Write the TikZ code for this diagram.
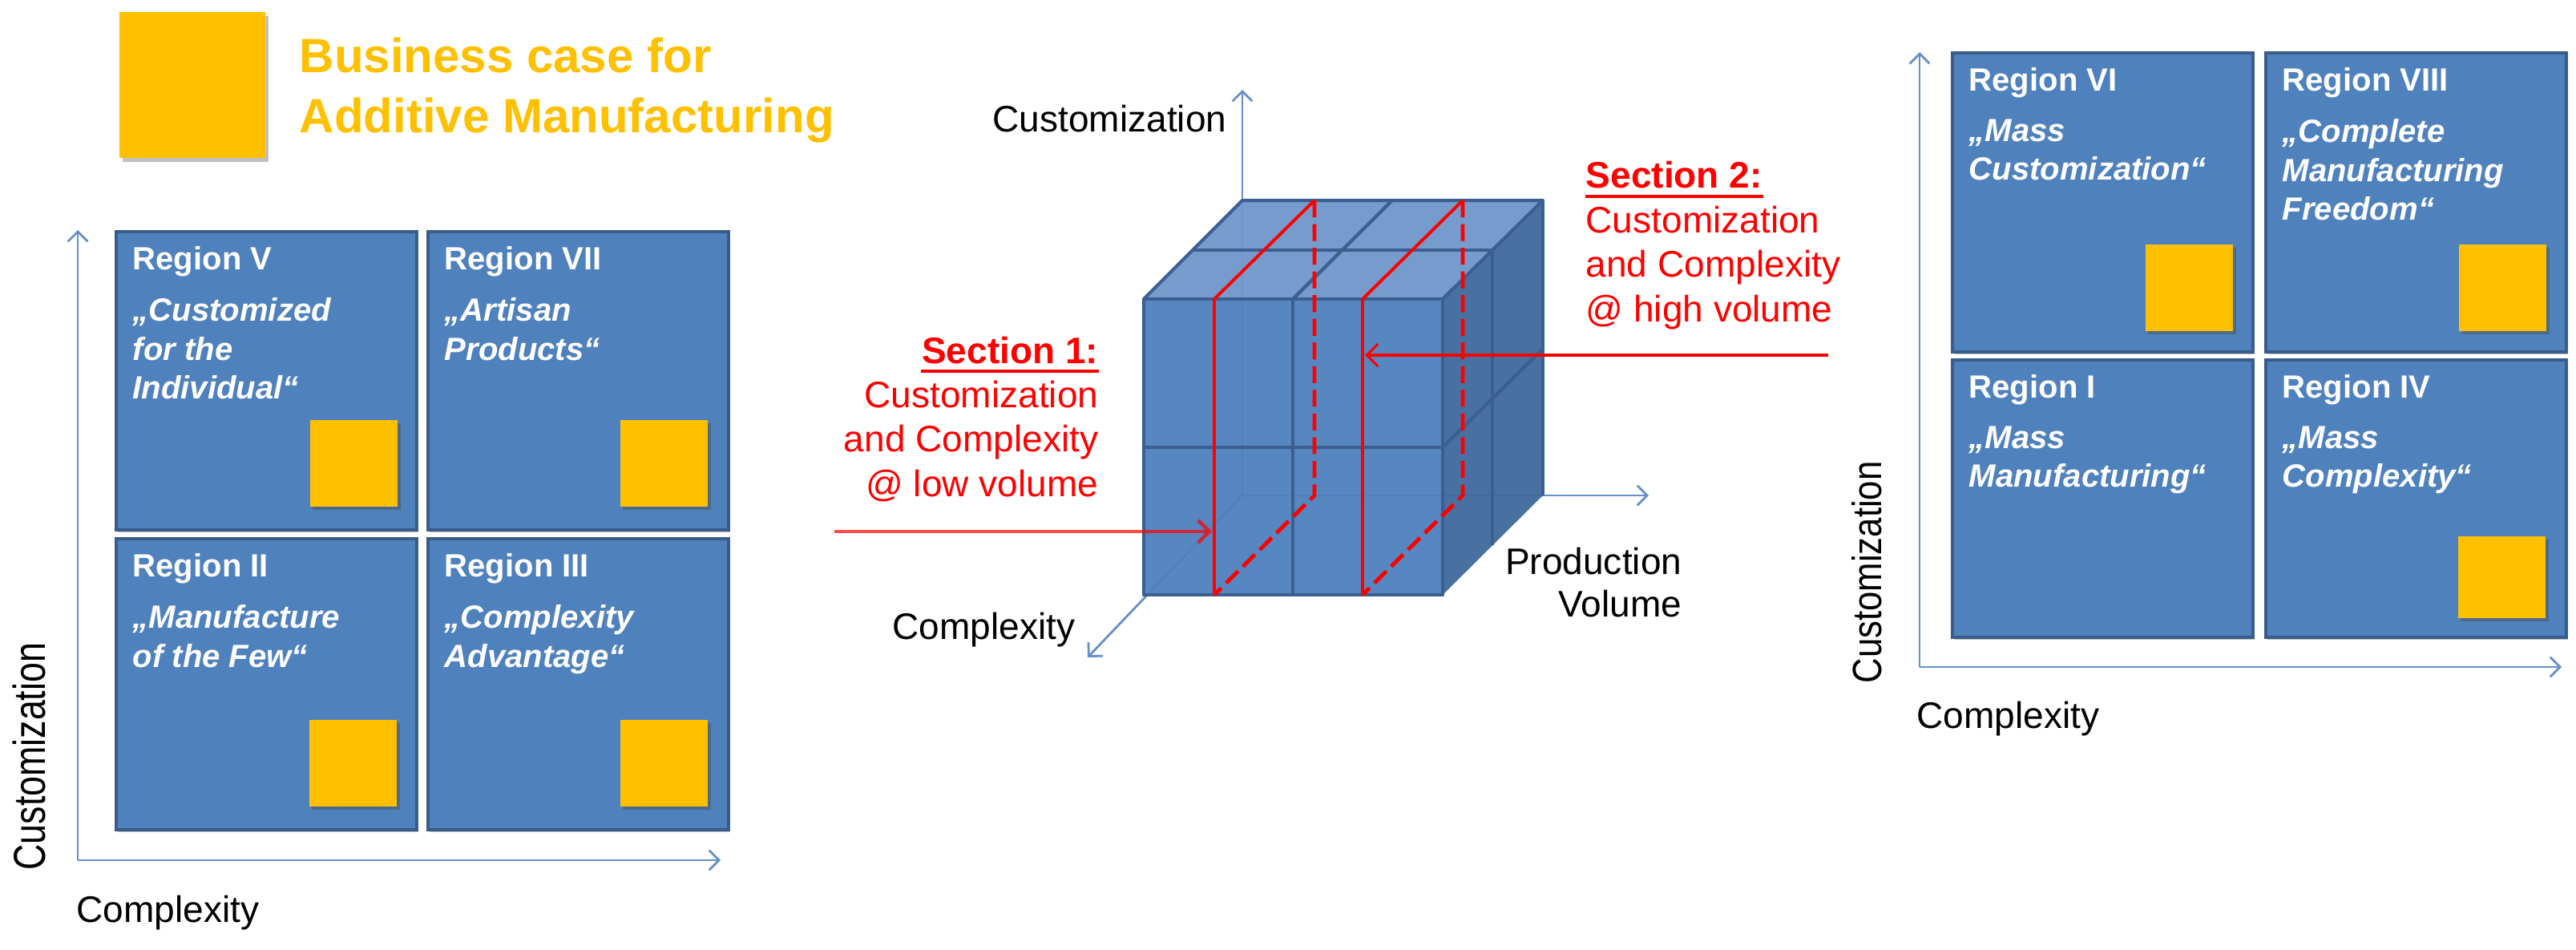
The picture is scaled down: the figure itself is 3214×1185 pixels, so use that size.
\documentclass[tikz,border=0pt]{standalone}
\usepackage{fontspec}
\usepackage{graphicx}
\setmainfont{Liberation Sans}
\usetikzlibrary{arrows.meta,shadows,calc}
\definecolor{boxblue}{HTML}{4F81BD}
\definecolor{boxdark}{HTML}{385D8A}
\definecolor{amyellow}{HTML}{FFC000}
\definecolor{axisblue}{HTML}{6690CB}
\definecolor{topblue}{HTML}{6E97CA}
\definecolor{sideblue}{HTML}{3F6A9E}
\definecolor{cubeedge}{HTML}{3A5F90}
\definecolor{secred}{HTML}{FF0000}
\newcommand{\RegBox}[5]{%
  \node[regbox, minimum height=#3] (#1) at (#2) {};
  \node[regtitle] (#1t) at ([xshift=0.22cm,yshift=-0.49cm]#1.north west) {#4};
  \node[regquote] (#1q) at ([xshift=0.22cm,yshift=-0.84cm]#1.north west) {#5};}
\tikzset{
  regbox/.style={draw=boxdark, line width=1.1pt, fill=boxblue, anchor=north west,
    minimum width=3.75cm, inner sep=0pt,
    drop shadow={shadow xshift=0.6pt, shadow yshift=-0.8pt, opacity=0.25, fill=black}},
  regtitle/.style={anchor=base west, inner sep=0pt, text=white,
    font=\fontsize{11.4pt}{13.7pt}\selectfont\bfseries},
  regquote/.style={anchor=north west, inner sep=0pt, text=white, align=left,
    font=\fontsize{11.4pt}{13.8pt}\selectfont\bfseries\itshape},
  ysq/.style={fill=amyellow, anchor=south east, minimum width=1.09cm, minimum height=1.08cm,
    inner sep=0pt, drop shadow={shadow xshift=0.9pt, shadow yshift=-1.1pt, opacity=0.45, fill=black!70}},
  titlesq/.style={fill=amyellow, anchor=north west, minimum width=1.82cm, minimum height=1.82cm,
    inner sep=0pt, drop shadow={shadow xshift=1.2pt, shadow yshift=-1.5pt, opacity=0.4, fill=black!60}},
  titletext/.style={anchor=north west, inner sep=0pt, align=left, text=amyellow,
    font=\fontsize{17.07pt}{21.34pt}\selectfont\bfseries},
  axisarrow/.style={draw=axisblue, line width=0.8pt, -{Straight Barb[length=3.5pt,width=7pt]}},
  lbl/.style={inner sep=0pt, text=black, font=\fontsize{13.1pt}{15.1pt}\selectfont},
  sectitle/.style={inner sep=0pt, text=secred, font=\fontsize{13.1pt}{15.8pt}\selectfont\bfseries},
  sectext/.style={inner sep=0pt, text=secred, font=\fontsize{13.1pt}{15.8pt}\selectfont},
  edgeline/.style={draw=cubeedge, line width=1.2pt, line join=round},
  secsolid/.style={draw=secred, line width=1.1pt, line join=round},
  secdash/.style={draw=secred, line width=1.4pt, dash pattern=on 6pt off 2.4pt},
  redarrow/.style={draw=secred, -{Straight Barb[length=4pt,width=8pt]}},
}
\begin{document}
\begin{tikzpicture}[x=0.01cm,y=-0.01cm]
\fill[white] (0,0) rectangle (3214,1185);
\useasboundingbox (0,0) rectangle (3214,1185);

% ---------- title ----------
\node[titlesq] (tsq) at (148,14) {};
\node[titletext] (title) at (373,46) {Business case for\\Additive Manufacturing};

% ---------- left matrix ----------
\coordinate (lo) at (97,1073);
\coordinate (ly) at (97,287);
\coordinate (lx) at (899,1073);
\draw[axisarrow] (lo) -- (ly);
\draw[axisarrow] (lo) -- (lx);
\node[lbl, anchor=base west, rotate=90, font=\fontsize{15.9pt}{18pt}\selectfont] (lcust) at (57,1086) {\scalebox{0.8}[1]{Customization}};
\node[lbl, anchor=base west] (lcompl) at (95,1150) {Complexity};

\RegBox{rV}{143,287}{3.72cm}{Region V}{„Customized\\for the\\Individual“}
\RegBox{rVII}{532,287}{3.72cm}{Region VII}{„Artisan\\Products“}
\RegBox{rII}{143,670}{3.63cm}{Region II}{„Manufacture\\of the Few“}
\RegBox{rIII}{532,670}{3.63cm}{Region III}{„Complexity\\Advantage“}
\node[ysq] (sV) at ([xshift=-0.25cm,yshift=0.30cm]rV.south east) {};
\node[ysq] (sVII) at ([xshift=-0.27cm,yshift=0.30cm]rVII.south east) {};
\node[ysq] (sII) at ([xshift=-0.26cm,yshift=0.30cm]rII.south east) {};
\node[ysq] (sIII) at ([xshift=-0.27cm,yshift=0.30cm]rIII.south east) {};

% ---------- right matrix ----------
\coordinate (ro) at (2395,832);
\coordinate (ry) at (2395,65);
\coordinate (rx) at (3196,832);
\draw[axisarrow] (ro) -- (ry);
\draw[axisarrow] (ro) -- (rx);
\node[lbl, anchor=base west, rotate=90, font=\fontsize{14.5pt}{17pt}\selectfont] (rcust) at (2347,853) {\scalebox{0.857}[1]{Customization}};
\node[lbl, anchor=base west] (rcompl) at (2391,908) {Complexity};

\RegBox{rVI}{2434,64}{3.73cm}{Region VI}{„Mass\\Customization“}
\RegBox{rVIII}{2825,64}{3.73cm}{Region VIII}{„Complete\\Manufacturing\\Freedom“}
\RegBox{rI}{2434,447}{3.46cm}{Region I}{„Mass\\Manufacturing“}
\RegBox{rIV}{2825,447}{3.46cm}{Region IV}{„Mass\\Complexity“}
\node[ysq] (sVI) at ([xshift=-0.26cm,yshift=0.27cm]rVI.south east) {};
\node[ysq] (sVIII) at ([xshift=-0.26cm,yshift=0.27cm]rVIII.south east) {};
\node[ysq, minimum height=1.02cm] (sIV) at ([xshift=-0.27cm,yshift=0.25cm]rIV.south east) {};

% ---------- cube ----------
\coordinate (F1) at (1427,742);
\coordinate (F2) at (1800,742);
\coordinate (F3) at (1800,373);
\coordinate (F4) at (1427,373);
\coordinate (B1) at (1550,618);
\coordinate (B2) at (1925,618);
\coordinate (B3) at (1925,250);
\coordinate (B4) at (1550,250);
\coordinate (cz) at (1550,112);
\coordinate (pv) at (2057,618);
\coordinate (cx) at (1357,820);
\draw[axisarrow] (B1) -- (cz);
\draw[axisarrow] (B1) -- (pv);
\draw[axisarrow] (B1) -- (cx);

\fill[boxblue, fill opacity=0.95] (F1) -- (F2) -- (F3) -- (F4) -- cycle;
\fill[topblue, fill opacity=0.95] (F4) -- (F3) -- (B3) -- (B4) -- cycle;
\fill[sideblue, fill opacity=0.95] (F2) -- (F3) -- (B3) -- (B2) -- cycle;

\coordinate (FMt) at (1613,373);
\coordinate (FMb) at (1613,742);
\coordinate (FHl) at (1427,558);
\coordinate (FHr) at (1800,558);
\coordinate (TDl) at (1488,312);
\coordinate (TDr) at (1862,312);
\coordinate (TWb) at (1737,250);
\coordinate (RVb) at (1862,680);
\coordinate (RHb) at (1925,435);
\draw[edgeline] (F1) -- (F2) -- (F3) -- (F4) -- cycle;
\draw[edgeline] (F4) -- (B4) -- (B3) -- (F3);
\draw[edgeline] (B3) -- (B2);
\draw[edgeline] (FMt) -- (FMb);
\draw[edgeline] (FHl) -- (FHr);
\draw[edgeline] (TDl) -- (TDr);
\draw[edgeline] (FMt) -- (TWb);
\draw[edgeline] (TDr) -- (RVb);
\draw[edgeline] (FHr) -- (RHb);

% ---------- sections ----------
\coordinate (S1a) at (1515,742);
\coordinate (S1b) at (1515,373);
\coordinate (S1c) at (1640,250);
\coordinate (S1d) at (1640,618);
\coordinate (S2a) at (1700,742);
\coordinate (S2b) at (1700,373);
\coordinate (S2c) at (1825,250);
\coordinate (S2d) at (1825,618);
\draw[secsolid] (S1a) -- (S1b) -- (S1c);
\draw[secdash] (S1c) -- (S1d) -- (S1a);
\draw[secsolid] (S2a) -- (S2b) -- (S2c);
\draw[secdash] (S2c) -- (S2d) -- (S2a);

\coordinate (a1s) at (1041,663);
\coordinate (a1e) at (1512,663);
\coordinate (a2s) at (2281,443);
\coordinate (a2e) at (1703,443);
\draw[redarrow, line width=1.3pt, draw opacity=0.7] (a1s) -- (a1e);
\draw[redarrow, line width=0.9pt] (a2s) -- (a2e);

% ---------- center labels ----------
\node[lbl, anchor=base east] (ccust) at (1531,165) {Customization};
\node[lbl, anchor=base west] (ccompl) at (1113,797) {Complexity};
\node[lbl, anchor=north east, align=right] (cprod) at (2099,682) {Production\\Volume};

\node[sectitle, anchor=base east] (s1t) at (1371,453) {Section 1:};
\draw[secred, line width=1.3pt] ([yshift=-2.8pt]s1t.base west) -- ([yshift=-2.8pt]s1t.base east);
\node[sectext, anchor=north east, align=right] (s1x) at (1371,474) {Customization\\and Complexity\\@ low volume};

\node[sectitle, anchor=base west] (s2t) at (1978,235) {Section 2:};
\draw[secred, line width=1.3pt] ([yshift=-2.8pt]s2t.base west) -- ([yshift=-2.8pt]s2t.base east);
\node[sectext, anchor=north west, align=left] (s2x) at (1978,256) {Customization\\and Complexity\\@ high volume};
\end{tikzpicture}
\end{document}
